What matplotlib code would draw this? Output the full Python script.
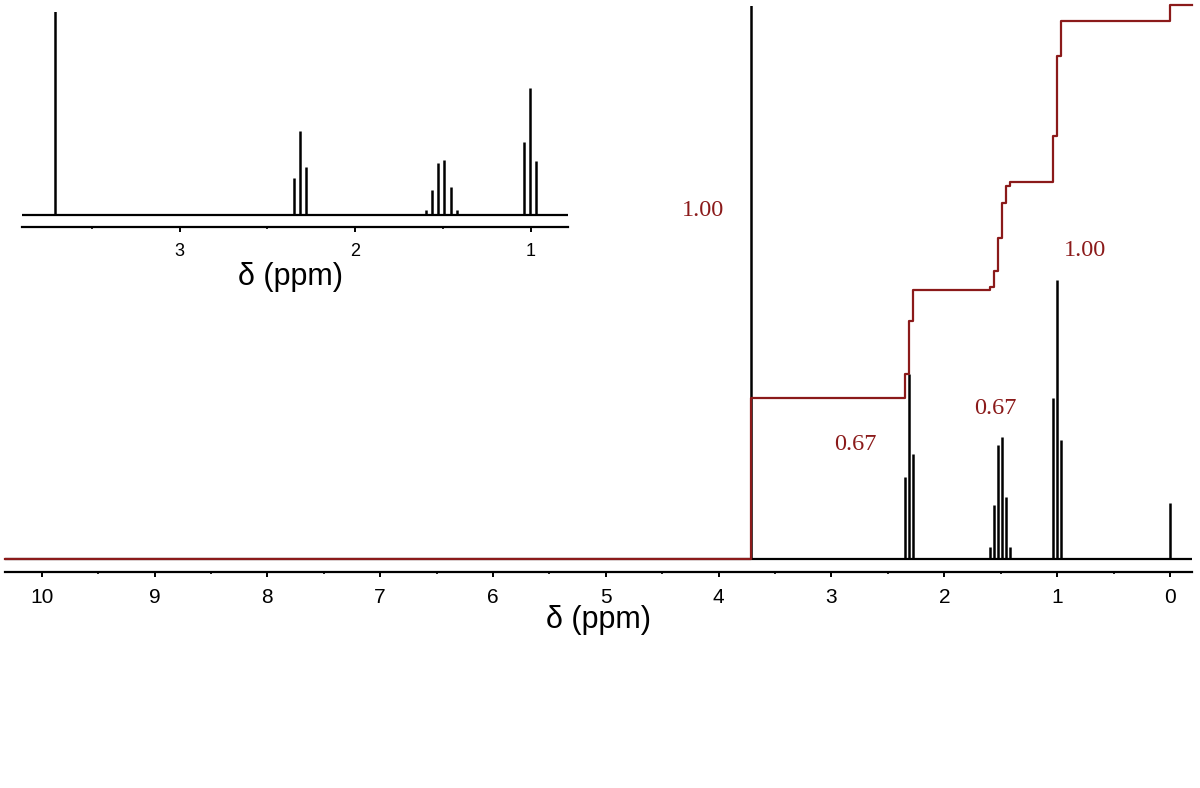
import matplotlib
matplotlib.use("Agg")
import matplotlib.pyplot as plt
import numpy as np
from matplotlib.ticker import MultipleLocator

# peak lines: shift (ppm) and height (same units as the integral, 1 unit ~ 1 px)
multiplet_ppm = [
    [3.710],                                     # OCH3 singlet
    [2.350, 2.314, 2.278],                       # CH2 triplet
    [1.598, 1.563, 1.528, 1.492, 1.457, 1.422],  # CH2 sextet
    [1.040, 1.005, 0.970],                       # CH3 triplet
    [0.000],                                     # TMS
]
multiplet_height = [
    [600],
    [82, 185, 105],
    [12, 54, 114, 122, 62, 12],
    [161, 279, 119],
    [56],
]
multiplet_integral = [1.00, 0.67, 0.67, 1.00, 0.10]

# integral labels: text, x (ppm), y
int_labels = ["1.00", "0.67", "0.67", "1.00"]
int_label_x = [4.14, 2.79, 1.55, 0.75]
int_label_y = [348, 114, 151, 309]

RED = "#8b1a1a"
INT_SCALE = 161.0   # height of a 1.00 integral step

main_xlim = (10.325, -0.195)
inset_xlim = (3.897, 0.788)

# integral step curve built from the peak list
ppm_all, step_all = [], []
for ppms, hts, integ in zip(multiplet_ppm, multiplet_height, multiplet_integral):
    tot = float(sum(hts))
    for p, h in zip(ppms, hts):
        ppm_all.append(p)
        step_all.append(integ * INT_SCALE * h / tot)
order = np.argsort(ppm_all)[::-1]
ppm_sorted = np.array(ppm_all)[order]
cum = np.cumsum(np.array(step_all)[order])
int_x = np.concatenate([[main_xlim[0]], ppm_sorted, [main_xlim[1]]])
int_y = np.concatenate([[0.0], cum, [cum[-1]]])

all_ppm = [p for m in multiplet_ppm for p in m]
all_h = [h for m in multiplet_height for h in m]

W, H = 1200, 788
fig = plt.figure(figsize=(W / 100, H / 100), dpi=100)


def style_axis(ax, xlim, ylim, fsize):
    ax.set_xlim(*xlim)
    ax.set_ylim(*ylim)
    for s in ["left", "right", "top"]:
        ax.spines[s].set_visible(False)
    ax.spines["bottom"].set_linewidth(1.6)
    ax.set_yticks([])
    ax.xaxis.set_major_locator(MultipleLocator(1))
    ax.xaxis.set_minor_locator(MultipleLocator(0.5))
    ax.tick_params(axis="x", which="major", direction="out", length=3.5,
                   width=1.4, pad=8, labelsize=fsize)
    ax.tick_params(axis="x", which="minor", direction="out", length=1.5, width=1.2)
    for t in ax.get_xticklabels():
        t.set_family("Liberation Sans")
    ax.patch.set_alpha(0)


# main spectrum
ax = fig.add_axes([5 / W, 1 - 571.7 / H, 1187 / W, 566 / H])
style_axis(ax, main_xlim, (-12.7, 553.3), 15)
ax.axhline(0, color="black", lw=1.6, zorder=2)
ax.vlines(all_ppm, 0, all_h, color="black", lw=1.8, zorder=2)
ax.plot(int_x, int_y, drawstyle="steps-post", color=RED, lw=1.6,
        zorder=3, clip_on=False)
for txt, x, y in zip(int_labels, int_label_x, int_label_y):
    ax.text(x, y, txt, color=RED, fontsize=17.5, family="Liberation Serif",
            ha="center", va="center")
ax.set_xlabel("δ (ppm)", fontsize=22, family="Liberation Sans")
ax.xaxis.label.set_va("center")
ax.xaxis.set_label_coords(0.5, -0.086)

# inset zoom
axi = fig.add_axes([22 / W, 1 - 226.7 / H, 546 / W, 215 / H])
style_axis(axi, inset_xlim, (-25.7, 447), 13)
axi.axhline(0, color="black", lw=1.6, zorder=2)
axi.vlines(all_ppm, 0, all_h, color="black", lw=1.8, zorder=2)
axi.set_xlabel("δ (ppm)", fontsize=22, family="Liberation Sans")
axi.xaxis.label.set_va("center")
axi.xaxis.set_label_coords(0.491, -0.235)

fig.savefig("out.png", dpi=100)
